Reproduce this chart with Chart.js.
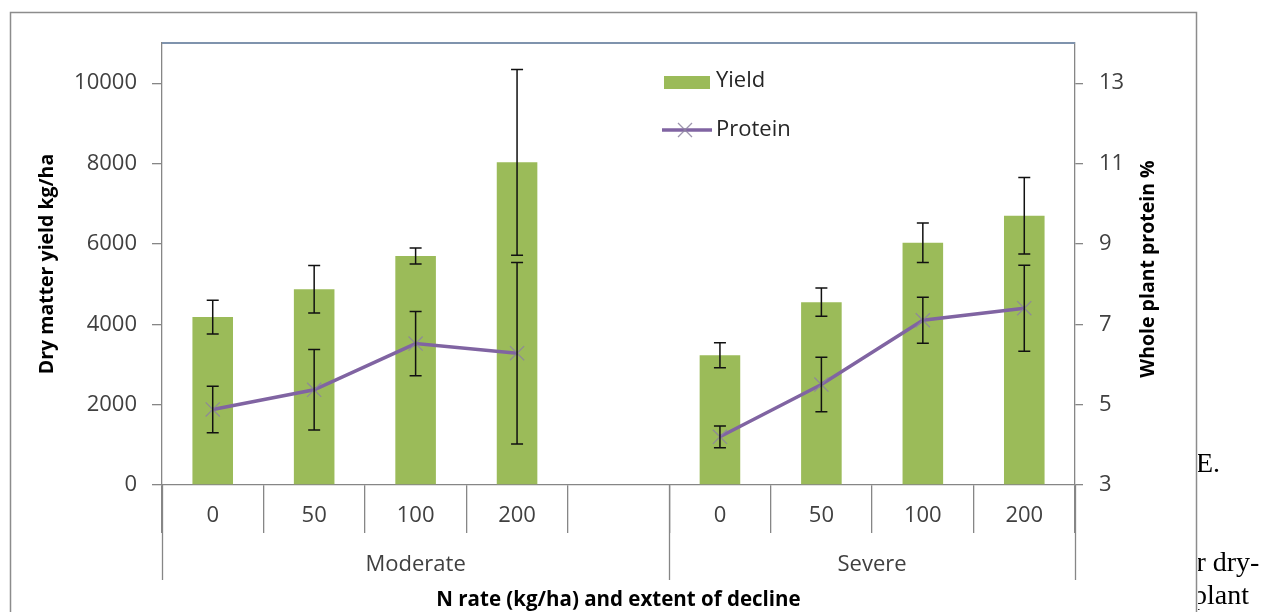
<!DOCTYPE html>
<html>
<head>
<meta charset="utf-8">
<script src="https://cdn.jsdelivr.net/npm/chart.js@4.4.1/dist/chart.umd.min.js"></script>
<style>
  html, body { margin: 0; padding: 0; background: #fff; }
  #wrap { position: relative; width: 1266px; height: 612px; overflow: hidden; }
  #c { position: absolute; left: 0; top: 0; }
  #clip { position: absolute; left: 1198px; top: 0; width: 68px; height: 612px; overflow: hidden; }
  .doc { position: absolute; font-family: "Liberation Serif", "DejaVu Serif", serif; font-size: 28px; line-height: 28px; color: #000; white-space: nowrap; }
</style>
</head>
<body>
<div id="wrap">
  <canvas id="c" width="1266" height="612"></canvas>
  <div id="clip">
    <div class="doc" style="left:-2px; top:449px;">E.</div>
    <div class="doc" style="left:-14px; top:548px;">er dry-</div>
    <div class="doc" style="left:-5px; top:581px;">plant</div>
  </div>
</div>
<script>
// ---- data ----
const categories = ['0', '50', '100', '200', '', '0', '50', '100', '200'];
const groupLabels = ['Moderate', 'Severe'];
const groupSizes = [5, 4];
const yieldValues = [4180, 4870, 5700, 8030, null, 3230, 4550, 6030, 6700];
const yieldErrors = [420, 590, 200, 2310, null, 310, 350, 490, 950];
const proteinValues = [4.88, 5.37, 6.52, 6.28, null, 4.20, 5.50, 7.10, 7.40];
const proteinErrors = [0.58, 1.00, 0.80, 2.26, null, 0.27, 0.68, 0.57, 1.07];
const yieldTicks = [0, 2000, 4000, 6000, 8000, 10000];
const proteinTicks = [3, 5, 7, 9, 11, 13];
const seriesNames = ['Yield', 'Protein'];
const leftAxisTitle = 'Dry matter yield kg/ha';
const rightAxisTitle = 'Whole plant protein %';
const xAxisTitle = 'N rate (kg/ha) and extent of decline';

const FONT = '"Open Sans", "Noto Sans", sans-serif';
const GREEN = '#9BBB59';
const PURPLE = '#8064A2';
const MARK = 'rgba(140,130,160,0.85)';
const GRID = '#868686';
const TXT = '#404040';

const errorMap = { 0: yieldErrors, 1: proteinErrors };

const decor = {
  id: 'decor',
  beforeDraw(chart) {
    const ctx = chart.ctx;
    ctx.save();
    ctx.fillStyle = '#fff';
    ctx.fillRect(0, 0, chart.width, chart.height);
    ctx.strokeStyle = '#8c8c8c';
    ctx.lineWidth = 1.5;
    ctx.strokeRect(10.5, 12.5, 1186, 700);
    ctx.restore();
  },
  afterDatasetsDraw(chart) {
    const ctx = chart.ctx;
    ctx.save();
    ctx.strokeStyle = '#111';
    ctx.lineWidth = 1.5;
    chart.data.datasets.forEach((ds, di) => {
      const meta = chart.getDatasetMeta(di);
      const scale = chart.scales[ds.yAxisID];
      const errs = errorMap[di];
      ds.data.forEach((v, i) => {
        if (v === null || errs[i] === null) return;
        const x = meta.data[i].x;
        const y1 = scale.getPixelForValue(v + errs[i]);
        const y2 = scale.getPixelForValue(v - errs[i]);
        ctx.beginPath();
        ctx.moveTo(x, y1); ctx.lineTo(x, y2);
        ctx.moveTo(x - 6, y1); ctx.lineTo(x + 6, y1);
        ctx.moveTo(x - 6, y2); ctx.lineTo(x + 6, y2);
        ctx.stroke();
      });
    });
    ctx.restore();
  },
  afterDraw(chart) {
    const ctx = chart.ctx;
    const a = chart.chartArea;
    const xs = chart.scales.x;
    ctx.save();
    // plot area top border
    ctx.strokeStyle = '#7f93ad';
    ctx.lineWidth = 2;
    ctx.beginPath(); ctx.moveTo(a.left, a.top); ctx.lineTo(a.right, a.top); ctx.stroke();
    // group dividers and labels
    ctx.strokeStyle = GRID;
    ctx.lineWidth = 1.3;
    let start = 0;
    const bounds = [0];
    groupSizes.forEach(s => { start += s; bounds.push(start); });
    bounds.forEach(b => {
      const px = Math.round(xs.getPixelForValue(b - 0.5)) + 0.5;
      ctx.beginPath(); ctx.moveTo(px, a.bottom); ctx.lineTo(px, 580); ctx.stroke();
    });
    ctx.fillStyle = TXT;
    ctx.font = '22px ' + FONT;
    ctx.textAlign = 'center';
    ctx.textBaseline = 'middle';
    for (let g = 0; g < groupLabels.length; g++) {
      const l = xs.getPixelForValue(bounds[g] - 0.5);
      const r = xs.getPixelForValue(bounds[g + 1] - 0.5);
      ctx.fillText(groupLabels[g], (l + r) / 2, 565);
    }
    // right axis title (reads bottom to top)
    ctx.save();
    ctx.translate(1148, (a.top + a.bottom) / 2 + 5);
    ctx.rotate(-Math.PI / 2);
    ctx.fillStyle = '#000';
    ctx.font = 'bold 19.5px ' + FONT;
    ctx.textAlign = 'center';
    ctx.fillText(rightAxisTitle, 0, 0);
    ctx.restore();
    // legend
    ctx.fillStyle = GREEN;
    ctx.fillRect(664, 76, 46, 13);
    ctx.strokeStyle = PURPLE;
    ctx.lineWidth = 3.5;
    ctx.beginPath(); ctx.moveTo(662, 130); ctx.lineTo(712, 130); ctx.stroke();
    ctx.strokeStyle = MARK;
    ctx.lineWidth = 1.3;
    ctx.beginPath();
    ctx.moveTo(678, 123); ctx.lineTo(692, 137);
    ctx.moveTo(692, 123); ctx.lineTo(678, 137);
    ctx.stroke();
    ctx.fillStyle = '#262626';
    ctx.textAlign = 'left';
    ctx.font = '22px ' + FONT;
    ctx.fillText(seriesNames[0], 716, 81);
    ctx.fillText(seriesNames[1], 716, 130);
    ctx.restore();
  }
};

new Chart(document.getElementById('c'), {
  data: {
    labels: categories,
    datasets: [
      {
        type: 'bar', label: seriesNames[0], data: yieldValues, yAxisID: 'y',
        backgroundColor: GREEN, borderWidth: 0,
        categoryPercentage: 1.0, barPercentage: 0.4, order: 2
      },
      {
        type: 'line', label: seriesNames[1], data: proteinValues, yAxisID: 'y2',
        borderColor: PURPLE, borderWidth: 3.5, spanGaps: false, tension: 0,
        pointStyle: 'crossRot', pointRadius: 10, pointBorderWidth: 1.3,
        pointBorderColor: MARK, pointBackgroundColor: MARK,
        order: 1
      }
    ]
  },
  options: {
    responsive: false,
    animation: false,
    devicePixelRatio: 1,
    layout: { padding: { top: 43, left: 0, right: 0, bottom: 0 } },
    plugins: { legend: { display: false }, tooltip: { enabled: false } },
    scales: {
      x: {
        type: 'category',
        offset: true,
        grid: { offset: true, drawOnChartArea: false, drawTicks: true, tickLength: 48, color: GRID, lineWidth: 1.3 },
        border: { color: GRID, width: 1.3 },
        ticks: { font: { family: FONT, size: 22 }, color: TXT, padding: -30, maxRotation: 0, autoSkip: false },
        title: { display: true, text: xAxisTitle, font: { family: FONT, size: 20.5, weight: 'bold' }, color: '#000', padding: { top: 3, bottom: 0 } },
        afterFit(s) { s.height = 127; }
      },
      y: {
        position: 'left',
        min: 0, max: 11000,
        afterBuildTicks(s) { s.ticks = yieldTicks.map(v => ({ value: v })); },
        grid: { drawOnChartArea: false, drawTicks: true, tickLength: 10, color: GRID, lineWidth: 1.3 },
        border: { color: GRID, width: 1.3 },
        ticks: { font: { family: FONT, size: 22 }, color: TXT, padding: 15, callback: v => String(v) },
        title: { display: true, text: leftAxisTitle, font: { family: FONT, size: 19.5, weight: 'bold' }, color: '#000', padding: { top: 36, bottom: 0 } },
        afterFit(s) { s.width = 162; }
      },
      y2: {
        position: 'right',
        min: 3, max: 14,
        afterBuildTicks(s) { s.ticks = proteinTicks.map(v => ({ value: v })); },
        grid: { drawOnChartArea: false, drawTicks: true, tickLength: 8, color: GRID, lineWidth: 1.3 },
        border: { color: GRID, width: 1.3 },
        ticks: { font: { family: FONT, size: 22 }, color: TXT, padding: 16, callback: v => String(v) },
        title: { display: false },
        afterFit(s) { s.width = 191; }
      }
    }
  },
  plugins: [decor]
});
</script>
</body>
</html>
